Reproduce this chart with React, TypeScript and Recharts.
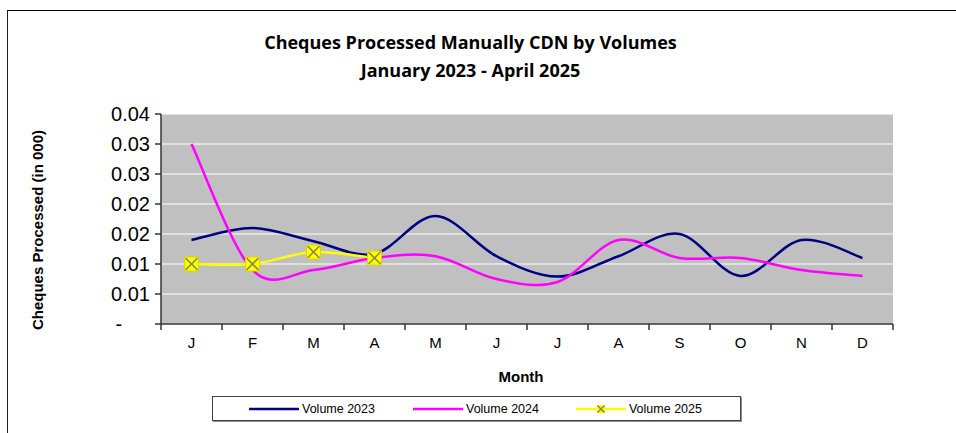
import React from "react";
import { LineChart, Line, XAxis, YAxis, CartesianGrid, Legend } from "recharts";

const categories = ["Jan", "Feb", "Mar", "Apr", "May", "Jun", "Jul", "Aug", "Sep", "Oct", "Nov", "Dec"];
const tickLabels = ["J", "F", "M", "A", "M", "J", "J", "A", "S", "O", "N", "D"];
const vol2023 = [0.014, 0.016, 0.0138, 0.0117, 0.018, 0.0113, 0.0079, 0.0113, 0.015, 0.008, 0.014, 0.011];
const vol2024 = [0.03, 0.009, 0.009, 0.011, 0.0113, 0.0075, 0.007, 0.014, 0.011, 0.011, 0.009, 0.008];
const vol2025 = [0.01, 0.01, 0.012, 0.011];
const yTicks = [0, 0.005, 0.01, 0.015, 0.02, 0.025, 0.03, 0.035];

const series = [
  { key: "v2023", name: "Volume 2023", color: "#000080", marker: false },
  { key: "v2024", name: "Volume 2024", color: "#FF00FF", marker: false },
  { key: "v2025", name: "Volume 2025", color: "#FFFF00", marker: true },
];

const data = categories.map((m, i) => ({
  month: m,
  v2023: vol2023[i],
  v2024: vol2024[i],
  v2025: i < vol2025.length ? vol2025[i] : null,
}));

const W = 956;
const H = 433;
const PLOT_L = 161;
const PLOT_R = 893;
const PLOT_T = 114;
const PLOT_B = 324;
const HALF_STEP = (PLOT_R - PLOT_L) / categories.length / 2;

// Excel-style smoothed line (Catmull-Rom as cubic beziers)
const excelSmooth = (ctx: any) => {
  let pts: number[][] = [];
  return {
    areaStart() {},
    areaEnd() {},
    lineStart() {
      pts = [];
    },
    point(x: number, y: number) {
      pts.push([+x, +y]);
    },
    lineEnd() {
      const n = pts.length;
      if (!n) return;
      ctx.moveTo(pts[0][0], pts[0][1]);
      for (let i = 0; i < n - 1; i++) {
        const p0 = pts[Math.max(i - 1, 0)];
        const p1 = pts[i];
        const p2 = pts[i + 1];
        const p3 = pts[Math.min(i + 2, n - 1)];
        ctx.bezierCurveTo(
          p1[0] + (p2[0] - p0[0]) / 6,
          p1[1] + (p2[1] - p0[1]) / 6,
          p2[0] - (p3[0] - p1[0]) / 6,
          p2[1] - (p3[1] - p1[1]) / 6,
          p2[0],
          p2[1]
        );
      }
    },
  };
};

const fmtY = (v: number) =>
  v === 0 ? "-\u00a0\u00a0\u00a0\u00a0\u00a0" : (Math.round(v * 100 + 1e-9) / 100).toFixed(2);

const XTick = (props: any) => {
  const { x, y, index, visibleTicksCount } = props;
  return (
    <g>
      <line x1={x - HALF_STEP} x2={x - HALF_STEP} y1={y - 6} y2={y} stroke="#333" strokeWidth={1.5} />
      {index === visibleTicksCount - 1 && (
        <line x1={x + HALF_STEP} x2={x + HALF_STEP} y1={y - 6} y2={y} stroke="#333" strokeWidth={1.5} />
      )}
      <text x={x} y={y + 18} textAnchor="middle" fontSize={15} fill="#000" fontFamily="Arial, 'Liberation Sans', sans-serif">
        {tickLabels[index]}
      </text>
    </g>
  );
};

const XMarkDot = (props: any) => {
  const { cx, cy, value } = props;
  if (value == null || cx == null) return <g />;
  const s = 7;
  return (
    <g>
      <rect x={cx - s} y={cy - s} width={s * 2} height={s * 2} fill="#FFFF00" stroke="#d8d800" strokeWidth={1} />
      <line x1={cx - s + 1} y1={cy - s + 1} x2={cx + s - 1} y2={cy + s - 1} stroke="#8a8a45" strokeWidth={1.6} />
      <line x1={cx - s + 1} y1={cy + s - 1} x2={cx + s - 1} y2={cy - s + 1} stroke="#8a8a45" strokeWidth={1.6} />
    </g>
  );
};

const legendGaps = [36, 38, 37];

const LegendBox = () => (
  <div
    style={{
      width: 527,
      height: 23,
      border: "1px solid #404040",
      boxShadow: "1px 1px 0 #909090",
      background: "#fff",
      display: "flex",
      alignItems: "center",
      fontFamily: "Arial, 'Liberation Sans', sans-serif",
      fontSize: 12.5,
      color: "#000",
    }}
  >
    {series.map((s, i) => (
      <div key={s.key} style={{ display: "flex", alignItems: "center", marginLeft: legendGaps[i] }}>
        <svg width={50} height={12}>
          <line x1={0} x2={50} y1={6} y2={6} stroke={s.color} strokeWidth={2.5} />
          {s.marker && (
            <g>
              <rect x={21} y={2} width={8} height={8} fill="#FFFF00" />
              <line x1={21.5} y1={2.5} x2={28.5} y2={9.5} stroke="#8a8a45" strokeWidth={1.5} />
              <line x1={21.5} y1={9.5} x2={28.5} y2={2.5} stroke="#8a8a45" strokeWidth={1.5} />
            </g>
          )}
        </svg>
        <span style={{ marginLeft: 3, whiteSpace: "nowrap" }}>{s.name}</span>
      </div>
    ))}
  </div>
);

export default function App() {
  return (
    <div style={{ position: "fixed", left: 0, top: 0, width: W, height: H, background: "#fff", overflow: "hidden" }}>
      <div
        style={{
          position: "absolute",
          left: 7,
          top: 10,
          width: W,
          height: H,
          borderLeft: "1.5px solid #222",
          borderTop: "1.5px solid #000",
        }}
      />
      <div
        style={{
          position: "absolute",
          left: 0,
          width: 941,
          top: 28,
          textAlign: "center",
          fontFamily: "'Open Sans', Lato, sans-serif",
          fontWeight: 700,
          fontSize: 18,
          lineHeight: "28px",
          color: "#000",
        }}
      >
        <div>Cheques Processed Manually CDN by Volumes</div>
        <div>January 2023 - April 2025</div>
      </div>
      <div
        style={{
          position: "absolute",
          left: 37,
          top: 230,
          transform: "translate(-50%, -50%) rotate(-90deg)",
          whiteSpace: "nowrap",
          fontFamily: "Arial, 'Liberation Sans', sans-serif",
          fontWeight: 700,
          fontSize: 15,
          color: "#000",
        }}
      >
        Cheques Processed (in 000)
      </div>
      <div
        style={{
          position: "absolute",
          left: 0,
          width: 1042,
          top: 368,
          textAlign: "center",
          fontFamily: "Arial, 'Liberation Sans', sans-serif",
          fontWeight: 700,
          fontSize: 15,
          color: "#000",
        }}
      >
        Month
      </div>
      <div style={{ position: "absolute", left: 0, top: 0 }}>
        <LineChart
          width={W}
          height={H}
          data={data}
          margin={{ top: PLOT_T, right: W - PLOT_R, bottom: H - PLOT_B - 30, left: PLOT_L - 60 }}
        >
          <CartesianGrid vertical={false} fill="#C0C0C0" stroke="#ffffff" strokeWidth={1.2} />
          <XAxis
            dataKey="month"
            interval={0}
            height={30}
            padding={{ left: HALF_STEP, right: HALF_STEP }}
            axisLine={{ stroke: "#333", strokeWidth: 1.5 }}
            tickLine={false}
            tickSize={6}
            tickMargin={0}
            tick={<XTick />}
          />
          <XAxis
            xAxisId="top"
            orientation="top"
            dataKey="month"
            height={0}
            tick={false}
            tickLine={false}
            axisLine={{ stroke: "#808080", strokeWidth: 2 }}
          />
          <YAxis
            width={60}
            domain={[0, 0.035]}
            ticks={yTicks}
            interval={0}
            tickFormatter={fmtY}
            tickSize={6}
            tickMargin={5}
            axisLine={{ stroke: "#333", strokeWidth: 1.5 }}
            tickLine={{ stroke: "#333", strokeWidth: 1.5 }}
            tick={{ fontSize: 20, fill: "#000", fontFamily: "Arial, 'Liberation Sans', sans-serif" }}
          />
          <YAxis
            yAxisId="right"
            orientation="right"
            width={0}
            tick={false}
            tickLine={false}
            axisLine={{ stroke: "#808080", strokeWidth: 2.5 }}
          />
          <Legend
            verticalAlign="middle"
            align="center"
            layout="horizontal"
            wrapperStyle={{ left: 212, top: 396, width: 529, height: 25 }}
            content={<LegendBox />}
          />
          {series.map((s) => (
            <Line
              key={s.key}
              dataKey={s.key}
              name={s.name}
              type={excelSmooth as any}
              stroke={s.color}
              strokeWidth={2.5}
              dot={s.marker ? <XMarkDot /> : false}
              activeDot={false}
              connectNulls={false}
              isAnimationActive={false}
            />
          ))}
        </LineChart>
      </div>
    </div>
  );
}
